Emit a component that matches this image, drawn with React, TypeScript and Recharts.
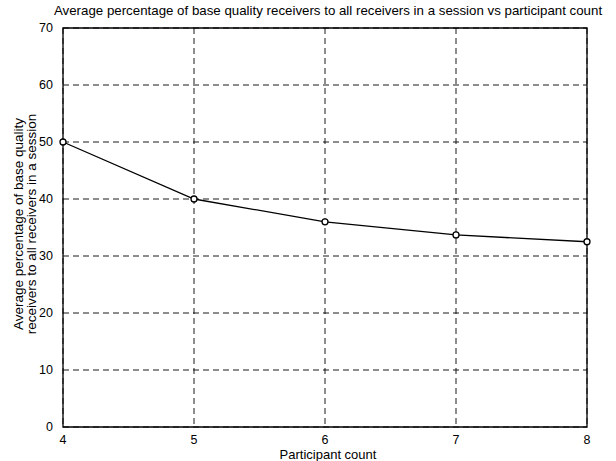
import React from "react";
import {
  LineChart,
  Line,
  XAxis,
  YAxis,
  CartesianGrid,
  ReferenceArea,
} from "recharts";

const participantCounts = [4, 5, 6, 7, 8];
const basePercentages = [50, 40, 36, 33.7, 32.5];
const yTicks = [0, 10, 20, 30, 40, 50, 60, 70];

const data = participantCounts.map((p, i) => ({
  participants: p,
  percent: basePercentages[i],
}));

const font = '"Liberation Sans", Arial, Helvetica, sans-serif';

export default function App() {
  return (
    <div
      style={{
        position: "absolute",
        left: 0,
        top: 0,
        width: 616,
        height: 461,
        background: "#fff",
        fontFamily: font,
        color: "#000",
      }}
    >
      <div
        style={{
          position: "absolute",
          top: 3,
          left: 28,
          width: 600,
          textAlign: "center",
          fontSize: 13.3,
          whiteSpace: "nowrap",
        }}
      >
        Average percentage of base quality receivers to all receivers in a session vs participant count
      </div>
      <div
        style={{
          position: "absolute",
          left: 25,
          top: 224,
          width: 320,
          transform: "translate(-50%, -50%) rotate(-90deg)",
          textAlign: "center",
          fontSize: 13.5,
          lineHeight: "13px",
          whiteSpace: "nowrap",
        }}
      >
        Average percentage of base quality
        <br />
        receivers to all receivers in a session
      </div>
      <div
        style={{
          position: "absolute",
          top: 448,
          left: 66,
          width: 524,
          textAlign: "center",
          fontSize: 13,
          lineHeight: "13px",
        }}
      >
        Participant count
      </div>
      <LineChart
        width={616}
        height={461}
        data={data}
        margin={{ top: 28, right: 29, bottom: 14, left: 23 }}
      >
        <CartesianGrid
          stroke="#000"
          strokeDasharray="6 4"
          strokeWidth={0.9}
        />
        <XAxis
          dataKey="participants"
          type="number"
          domain={[4, 8]}
          ticks={participantCounts}
          height={20}
          tickLine={false}
          axisLine={false}
          tickMargin={2}
          tick={{ fontSize: 12.5, fill: "#000", fontFamily: font }}
        />
        <YAxis
          type="number"
          domain={[0, 70]}
          ticks={yTicks}
          width={40}
          tickLine={false}
          axisLine={false}
          tickMargin={4}
          tick={{ fontSize: 12.5, fill: "#000", fontFamily: font }}
        />
        <ReferenceArea
          x1={4}
          x2={8}
          y1={0}
          y2={70}
          fill="none"
          fillOpacity={0}
          stroke="#000"
          strokeWidth={1.3}
          strokeOpacity={1}
          strokeDasharray="0"
        />
        <Line
          type="linear"
          dataKey="percent"
          stroke="#000"
          strokeWidth={1.3}
          dot={{ r: 3, stroke: "#000", strokeWidth: 1.3, fill: "#fff" }}
          isAnimationActive={false}
        />
      </LineChart>
    </div>
  );
}
